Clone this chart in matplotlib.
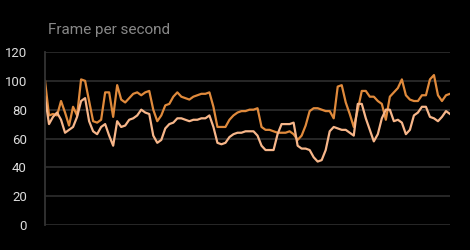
import matplotlib
matplotlib.use("Agg")
import matplotlib.pyplot as plt

# frame rate samples (two runs)
run_a = [100, 76, 77, 76, 86, 78, 69, 82, 76, 101, 100, 86, 72, 71, 73, 92, 92, 75,
         97, 87, 85, 88, 91, 92, 90, 92, 93, 80, 72, 76, 83, 84, 89, 92, 89, 88,
         87, 89, 90, 91, 91, 92, 82, 68, 68, 68, 73, 76, 78, 79, 79, 80, 80, 81,
         68, 66, 66, 65, 64, 64, 64, 65, 63, 59, 62, 69, 79, 81, 81, 80, 79, 79,
         74, 96, 97, 85, 77, 68, 80, 93, 93, 89, 89, 86, 84, 73, 89, 92, 95, 101,
         90, 87, 86, 86, 90, 90, 101, 104, 90, 86, 90, 91]
run_b = [89, 70, 75, 78, 73, 64, 66, 68, 75, 86, 88, 72, 65, 63, 68, 70, 62, 55,
         72, 68, 69, 73, 74, 76, 80, 78, 77, 62, 57, 59, 67, 70, 71, 74, 74, 73,
         72, 73, 73, 74, 74, 76, 68, 57, 56, 57, 61, 63, 64, 64, 65, 65, 65, 62,
         55, 52, 52, 52, 63, 70, 70, 70, 71, 55, 53, 53, 52, 47, 44, 45, 52, 65,
         68, 67, 66, 66, 64, 62, 84, 84, 74, 66, 58, 63, 74, 80, 80, 72, 73, 71,
         63, 66, 76, 78, 82, 82, 75, 74, 72, 75, 79, 77]
y_ticks = [0, 20, 40, 60, 80, 100, 120]

plt.rcParams['font.family'] = ['Roboto', 'DejaVu Sans']

fig = plt.figure(figsize=(4.7, 2.5), dpi=100, facecolor='black')
ax = fig.add_axes([45 / 470, 0.1, 405 / 470, 173 / 250])
ax.set_facecolor('black')

x = range(len(run_a))
ax.plot(x, run_a, color='#E08A3C', lw=1.6, solid_joinstyle='round')
ax.plot(x, run_b, color='#F7B68A', lw=1.6, solid_joinstyle='round')

ax.set_xlim(0, len(run_a) - 1)
ax.set_ylim(0, 120)
ax.set_yticks(y_ticks)
ax.set_xticks([])
ax.grid(axis='y', color='#2b2b2b', lw=1.3)
ax.set_axisbelow(True)
ax.tick_params(axis='y', length=0, pad=13, colors='#dddddd', labelsize=9.5)
for s in ['top', 'right', 'bottom']:
    ax.spines[s].set_visible(False)
ax.spines['left'].set_color('#333333')
ax.spines['left'].set_linewidth(1.3)

fig.text(48 / 470, 1 - 34 / 250, "Frame per second", color='#888888', fontsize=11)

fig.savefig("out.png", dpi=100, facecolor='black')
